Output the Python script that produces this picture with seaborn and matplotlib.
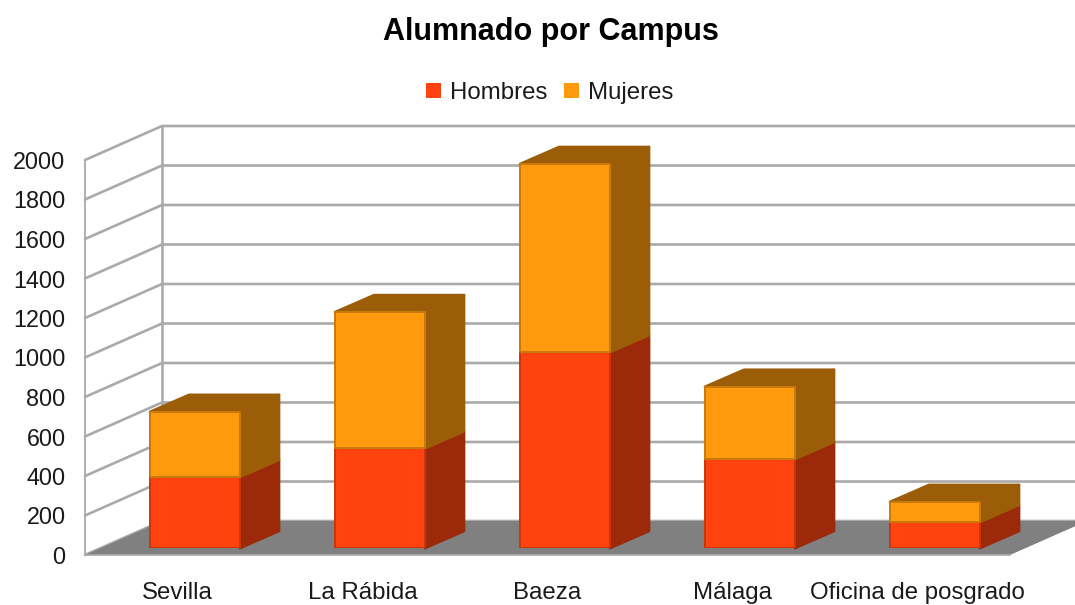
import matplotlib
matplotlib.use('Agg')
import matplotlib.pyplot as plt
import seaborn as sns
from matplotlib.patches import Polygon

# datos
campus = ['Sevilla', 'La Rábida', 'Baeza', 'Málaga', 'Oficina de posgrado']
hombres = [360, 505, 992, 451, 132]
mujeres = [329, 689, 952, 365, 101]
y_ticks = [0, 200, 400, 600, 800, 1000, 1200, 1400, 1600, 1800, 2000]

W, H = 1075, 605
GRID = '#aaaaaa'
TEXT = '#1a1a1a'

sns.set_theme(style='white')
plt.rcParams['font.family'] = ['Liberation Sans', 'DejaVu Sans']

fig = plt.figure(figsize=(W / 100, H / 100), dpi=100)


def axes_px(left, right, top, bottom):
    # caja de ejes en pixeles de la imagen
    return fig.add_axes([left / W, (H - bottom) / H, (right - left) / W, (bottom - top) / H])


# plano frontal: ejes y etiquetas
wall = axes_px(85, 1010, 160, 555)
# plano de las barras, algo metido hacia el fondo
ax = axes_px(102.5, 1027.5, 153, 548)

for a in (wall, ax):
    a.set_xlim(-0.5, 4.5)
    a.set_ylim(0, 2000)
    a.patch.set_visible(False)
    sns.despine(ax=a, left=True, bottom=True)

px_x = 185.0  # pixeles por categoria
px_y = 395 / 2000  # pixeles por unidad

# fondo: suelo, paredes y rejilla
back_dx, back_dy = 77 / px_x, 34 / px_y
x0, x1 = -0.5, 4.5
wall.add_patch(Polygon([(x0, 0), (x1, 0), (x1 + back_dx, back_dy), (x0 + back_dx, back_dy)],
                       closed=True, facecolor='#808080', edgecolor='none', clip_on=False, zorder=1))
for v in y_ticks:
    wall.plot([x0, x0 + back_dx, x1 + back_dx], [v, v + back_dy, v + back_dy],
              color=GRID, lw=1.9, clip_on=False, zorder=0.5, solid_joinstyle='miter')
wall.plot([x0, x0], [0, 2000], color=GRID, lw=1.3, clip_on=False, zorder=2)
wall.plot([x0 + back_dx, x0 + back_dx], [back_dy, 2000 + back_dy], color=GRID, lw=1.9, clip_on=False, zorder=0.6)
wall.plot([x0, x1], [0, 0], color=GRID, lw=1.3, clip_on=False, zorder=2)

wall.set_yticks(y_ticks)
wall.set_xticks(range(len(campus)))
wall.set_xticklabels(campus)
wall.tick_params(axis='y', length=0, pad=14, labelsize=16.8, labelcolor=TEXT)
wall.tick_params(axis='x', length=0, pad=19.5, labelsize=17.3, labelcolor=TEXT)

# barras
sns.barplot(x=campus, y=hombres, color='#ff420e', saturation=1, width=0.486, ax=ax,
            label='Hombres', edgecolor='#c9360c', linewidth=1.4)
sns.barplot(x=campus, y=mujeres, bottom=hombres, color='#ff990e', saturation=1, width=0.486, ax=ax,
            label='Mujeres', edgecolor='#c97a0a', linewidth=1.4)
ax.set_xlim(-0.5, 4.5)
ax.set_ylim(0, 2000)
ax.set_xticks([])
ax.set_yticks([])
ax.set_xlabel('')
ax.set_ylabel('')

# caras laterales y superiores a partir de cada barra
dep_x, dep_y = 39 / px_x, 17 / px_y
for i, bar in enumerate(list(ax.patches)):
    left = bar.get_x()
    right = left + bar.get_width()
    low = bar.get_y()
    up = low + bar.get_height()
    bar.set_joinstyle('round')
    bar.set_zorder(3)
    es_hombre = i < len(campus)
    side = '#9c2a0a' if es_hombre else '#9c5d08'
    ax.add_patch(Polygon([(right, low), (right + dep_x, low + dep_y), (right + dep_x, up + dep_y), (right, up)],
                         closed=True, facecolor=side, edgecolor=side, lw=2, joinstyle='round',
                         clip_on=False, zorder=2))
    if not es_hombre:
        ax.add_patch(Polygon([(left, up), (left + dep_x, up + dep_y), (right + dep_x, up + dep_y), (right, up)],
                             closed=True, facecolor=side, edgecolor=side, lw=2, joinstyle='round',
                             clip_on=False, zorder=2))

# leyenda y titulo
handles, labels = ax.get_legend_handles_labels()
if ax.get_legend() is not None:
    ax.get_legend().remove()
leg = fig.legend(handles, labels, loc='center', bbox_to_anchor=(550 / W, 1 - 93 / H), ncol=2, frameon=False,
                 fontsize=17.3, labelcolor=TEXT, handlelength=0.62, handleheight=0.62,
                 handletextpad=0.37, columnspacing=0.7, borderpad=0)
for h in leg.legend_handles:
    h.set_edgecolor('none')
fig.text(551 / W, 1 - 32 / H, 'Alumnado por Campus', ha='center', va='center',
         fontsize=22, fontweight='bold', color='black')

fig.savefig('out.png', dpi=100)
